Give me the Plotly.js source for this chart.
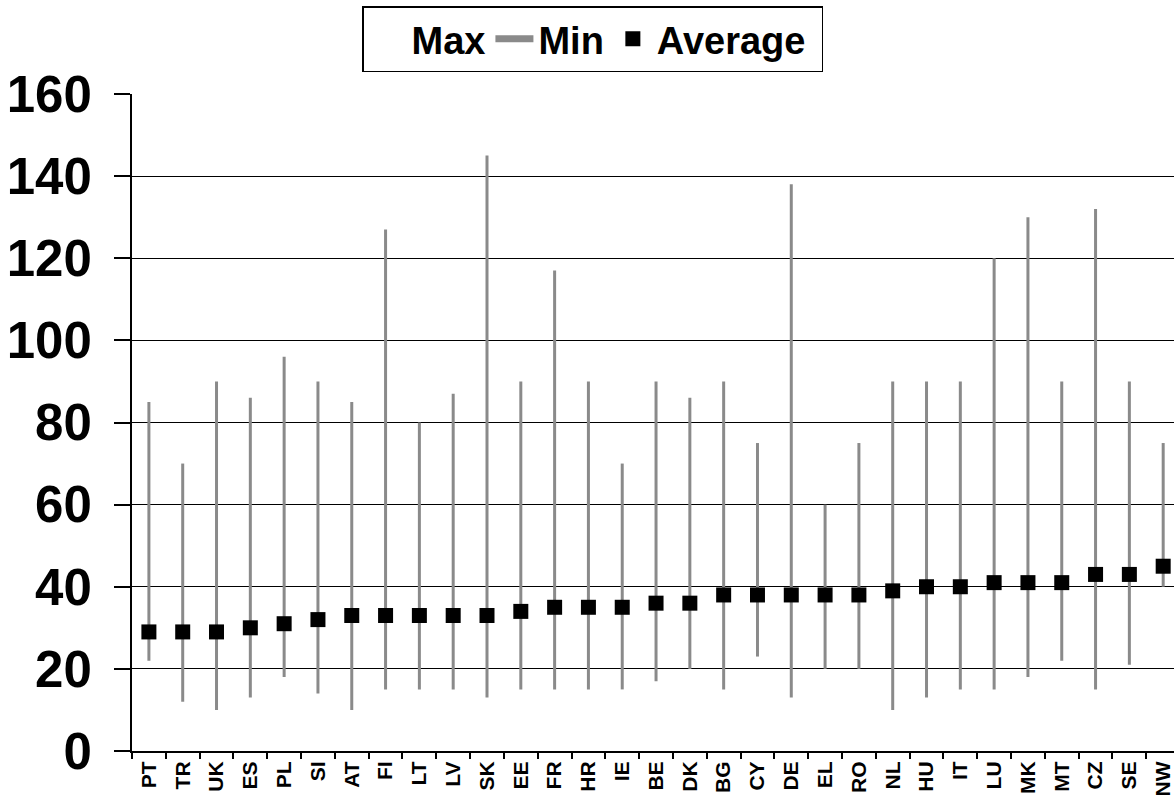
<!DOCTYPE html>
<html>
<head>
<meta charset="utf-8">
<script src="https://cdn.plot.ly/plotly-3.0.1.min.js"></script>
<style>html,body{margin:0;padding:0;background:#fff;}#chart{width:1174px;height:801px;}</style>
</head>
<body>
<div id="chart"></div>
<script>
const categories = ["PT","TR","UK","ES","PL","SI","AT","FI","LT","LV","SK","EE","FR","HR","IE","BE","DK","BG","CY","DE","EL","RO","NL","HU","IT","LU","MK","MT","CZ","SE","NW"];
const maxValues = [85,70,90,86,96,90,85,127,80,87,145,90,117,90,70,90,86,90,75,138,60,75,90,90,90,120,130,90,132,90,75];
const minValues = [22,12,10,13,18,14,10,15,15,15,13,15,15,15,15,17,20,15,23,13,20,20,10,13,15,15,18,22,15,21,40];
const avgValues = [29,29,29,30,31,32,33,33,33,33,33,34,35,35,35,36,36,38,38,38,38,38,39,40,40,41,41,41,43,43,45];
const yTicks = [0,20,40,60,80,100,120,140,160];

// high-low extents relative to the average, derived from the arrays
const upper = maxValues.map((v, i) => v - avgValues[i]);
const lower = avgValues.map((v, i) => v - minValues[i]);

const fontFam = '"Liberation Sans", Arial, sans-serif';
const gray = '#8a8a8a';

const traces = [
  {name: 'Max', type: 'scatter', mode: 'markers', x: categories, y: maxValues,
   marker: {color: 'rgba(0,0,0,0)', size: 1}, hoverinfo: 'skip'},
  {name: 'Min', type: 'scatter', mode: 'lines', x: [null], y: [null],
   line: {color: gray, width: 7}, hoverinfo: 'skip'},
  {name: 'Average\u00a0', type: 'scatter', mode: 'markers', x: categories, y: avgValues,
   marker: {color: '#000', symbol: 'square', size: 15},
   error_y: {type: 'data', symmetric: false, array: upper, arrayminus: lower,
             color: gray, thickness: 3, width: 0}}
];

const layout = {
  width: 1174, height: 801,
  margin: {l: 132, r: 0, t: 94, b: 50},
  paper_bgcolor: '#fff', plot_bgcolor: '#fff',
  font: {family: fontFam, color: '#000', weight: 'bold'},
  showlegend: true,
  legend: {
    orientation: 'h', xref: 'container', yref: 'container',
    x: 362/1174, xanchor: 'left', y: 1 - 6/801, yanchor: 'top',
    bordercolor: '#000', borderwidth: 1.5, bgcolor: '#fff',
    font: {size: 38, family: fontFam, color: '#000', weight: 'bold'},
    itemwidth: 38, traceorder: 'normal'
  },
  xaxis: {
    type: 'category', categoryorder: 'array', categoryarray: categories,
    range: [-0.5, 30.32], tickson: 'boundaries',
    ticks: 'outside', ticklen: 6, tickwidth: 2, tickcolor: '#000',
    showline: true, linecolor: '#000', linewidth: 2,
    showgrid: false, zeroline: false,
    tickangle: -90, tickfont: {size: 21, family: fontFam, weight: 'bold'},
    fixedrange: true
  },
  xaxis2: {
    type: 'linear', overlaying: 'x', anchor: 'y', range: [-0.5, 30.32],
    tick0: 0.5, dtick: 1, ticks: 'inside', ticklen: 6, tickwidth: 2, tickcolor: '#000',
    showticklabels: false, showgrid: false, zeroline: false, showline: false
  },
  yaxis: {
    range: [0, 160], tickvals: yTicks, ticktext: yTicks.map(String),
    ticks: 'outside', ticklen: 16, tickwidth: 2, tickcolor: '#000',
    showline: true, linecolor: '#000', linewidth: 2,
    showgrid: true, gridcolor: '#000', gridwidth: 1.2, zeroline: false,
    tickfont: {size: 51, family: fontFam, weight: 'bold'},
    ticklabelstandoff: 12,
    fixedrange: true
  },
  yaxis2: {
    overlaying: 'y', anchor: 'x', side: 'left', range: [0, 160], tickvals: yTicks,
    ticks: 'inside', ticklen: 16, tickwidth: 2, tickcolor: '#000',
    showticklabels: false, showgrid: false, zeroline: false, showline: false
  }
};

Plotly.newPlot('chart', traces, layout, {displayModeBar: false, staticPlot: true});
</script>
</body>
</html>
